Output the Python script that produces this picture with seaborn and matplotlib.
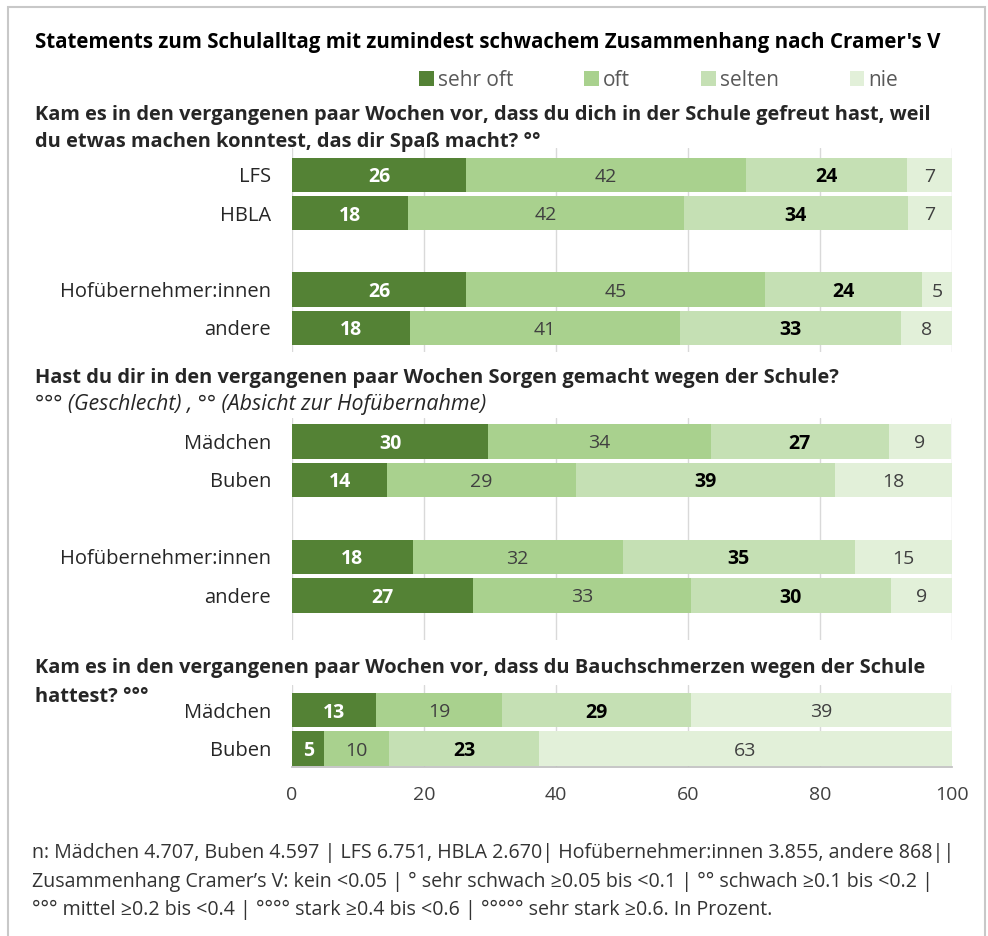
import matplotlib
matplotlib.use("Agg")
import matplotlib.pyplot as plt
import seaborn as sns
import pandas as pd
from matplotlib.patches import Rectangle, Patch

# ---------------- data ----------------
levels = ["sehr oft", "oft", "selten", "nie"]
level_colors = ["#548235", "#a9d18e", "#c5e0b4", "#e2f0d9"]

title = "Statements zum Schulalltag mit zumindest schwachem Zusammenhang nach Cramer's V"

q1_head = ["Kam es in den vergangenen paar Wochen vor, dass du dich in der Schule gefreut hast, weil",
           "du etwas machen konntest, das dir Spaß macht? °°"]
q1_groups = ["LFS", "HBLA", "Hofübernehmer:innen", "andere"]
q1_sehr_oft = [26.4, 17.6, 26.4, 17.9]
q1_oft = [42.4, 41.8, 45.3, 40.9]
q1_selten = [24.4, 33.9, 23.7, 33.4]
q1_nie = [6.8, 6.7, 4.6, 7.8]

q2_head = ["Hast du dir in den vergangenen paar Wochen Sorgen gemacht wegen der Schule?",
           "°°° (Geschlecht) , °° (Absicht zur Hofübernahme)"]
q2_groups = ["Mädchen", "Buben", "Hofübernehmer:innen", "andere"]
q2_sehr_oft = [29.7, 14.4, 18.3, 27.4]
q2_oft = [33.8, 28.6, 31.8, 33.0]
q2_selten = [26.9, 39.2, 35.2, 30.4]
q2_nie = [9.4, 17.9, 14.7, 9.2]

q3_head = ["Kam es in den vergangenen paar Wochen vor, dass du Bauchschmerzen wegen der Schule",
           "hattest? °°°"]
q3_groups = ["Mädchen", "Buben"]
q3_sehr_oft = [12.7, 4.9]
q3_oft = [19.1, 9.8]
q3_selten = [28.7, 22.7]
q3_nie = [39.4, 62.6]

x_ticks = [0, 20, 40, 60, 80, 100]

footnote = [
    "n: Mädchen 4.707, Buben 4.597 | LFS 6.751, HBLA 2.670| Hofübernehmer:innen 3.855, andere 868||",
    "Zusammenhang Cramer’s V: kein <0.05 | ° sehr schwach ≥0.05 bis <0.1 | °° schwach ≥0.1 bis <0.2 |",
    "°°° mittel ≥0.2 bis <0.4 | °°°° stark ≥0.4 bis <0.6 | °°°°° sehr stark ≥0.6. In Prozent.",
]

# ---------------- style ----------------
sns.set_theme(style="white")
FONT = ["Open Sans", "DejaVu Sans"]
plt.rcParams["font.family"] = FONT

W, H = 988, 936
fig = plt.figure(figsize=(W / 100, H / 100), dpi=100)
fig.patch.set_facecolor("white")


def fx(x):
    return x / W


def fy(y):
    return 1 - y / H


# outer frame
fig.patches.append(Rectangle((fx(8), fy(940)), fx(985) - fx(8), fy(7) - fy(940),
                             transform=fig.transFigure, fill=False,
                             edgecolor="#c8c8c8", linewidth=1.5))

AX_L, AX_R = 292, 952
LABEL_FS = 14
CAT_FS = 14.5


def make_panel(y_top, y_bot, groups, order, vals, ylim, bottom_axis=False):
    ax = fig.add_axes([fx(AX_L), fy(y_bot), fx(AX_R) - fx(AX_L), fy(y_top) - fy(y_bot)])
    df = pd.DataFrame({"group": groups})
    for lev, v in zip(levels, vals):
        df[lev] = v
    cum = df[levels].cumsum(axis=1)
    for i in reversed(range(len(levels))):
        sns.barplot(x=cum[levels[i]], y=df["group"], order=order, orient="h",
                    color=level_colors[i], width=0.9, linewidth=0, saturation=1,
                    ax=ax, label=levels[i])
    # value labels
    for r, g in enumerate(groups):
        yi = order.index(g)
        left = 0
        for i, lev in enumerate(levels):
            v = df.loc[r, lev]
            if i == 0:
                col, fw = "white", "bold"
            elif i == 2:
                col, fw = "black", "bold"
            else:
                col, fw = "#404040", "normal"
            ax.text(left + v / 2, yi, f"{v:.0f}", ha="center", va="center_baseline",
                    color=col, fontweight=fw, fontsize=LABEL_FS)
            left += v
    ax.set_xlim(0, 100)
    ax.set_ylim(*ylim)
    ax.set_xticks(x_ticks)
    ax.set_xlabel("")
    ax.set_ylabel("")
    ax.grid(axis="x", color="#d9d9d9", linewidth=1)
    ax.grid(axis="y", visible=False)
    ax.set_axisbelow(True)
    for s in ax.spines.values():
        s.set_visible(False)
    ax.tick_params(axis="y", length=0, pad=15, labelsize=CAT_FS, labelcolor="#262626")
    if bottom_axis:
        ax.spines["bottom"].set_visible(True)
        ax.spines["bottom"].set_color("#bfbfbf")
        ax.tick_params(axis="x", length=2.5, color="#bfbfbf", labelsize=14,
                       labelcolor="#404040", pad=11)
    else:
        ax.tick_params(axis="x", length=0, labelbottom=False)
    if ax.get_legend() is not None:
        ax.get_legend().remove()
    return ax


ax1 = make_panel(148, 352, q1_groups, ["LFS", "HBLA", " ", "Hofübernehmer:innen", "andere"],
                 [q1_sehr_oft, q1_oft, q1_selten, q1_nie], (4.63, -0.7))
ax2 = make_panel(418, 640, q2_groups, ["Mädchen", "Buben", " ", "Hofübernehmer:innen", "andere"],
                 [q2_sehr_oft, q2_oft, q2_selten, q2_nie], (5.16, -0.61))
ax3 = make_panel(685, 767, q3_groups, ["Mädchen", "Buben"],
                 [q3_sehr_oft, q3_oft, q3_selten, q3_nie], (1.475, -0.65), bottom_axis=True)

# title
fig.text(fx(35), fy(48), title, fontsize=14.8, fontweight="bold", color="black", va="baseline")

# legend
handles = [Patch(facecolor=c, edgecolor="none") for c in level_colors]
fig.legend(handles, levels, loc="center left", bbox_to_anchor=(fx(409), fy(80)), ncol=4,
           frameon=False, fontsize=15, handlelength=0.7, handleheight=0.7,
           handletextpad=0.2, columnspacing=3.4, labelcolor="#595959", borderpad=0)

# headings
HFS = 14.4
fig.text(fx(35), fy(120), q1_head[0], fontsize=HFS, fontweight="bold", va="baseline")
fig.text(fx(35), fy(147), q1_head[1], fontsize=HFS, fontweight="bold", va="baseline")
fig.text(fx(35), fy(383), q2_head[0], fontsize=HFS, fontweight="bold", va="baseline")
fig.text(fx(35), fy(410), q2_head[1], fontsize=15.4, fontstyle="italic", va="baseline",
         color="#262626")
fig.text(fx(35), fy(673), q3_head[0], fontsize=HFS, fontweight="bold", va="baseline")
fig.text(fx(35), fy(702), q3_head[1], fontsize=HFS, fontweight="bold", va="baseline")

# footnote
for i, line in enumerate(footnote):
    fig.text(fx(32), fy(858 + 28.5 * i), line, fontsize=14.1, color="#333333", va="baseline")

fig.savefig("out.png", dpi=100, facecolor="white")
